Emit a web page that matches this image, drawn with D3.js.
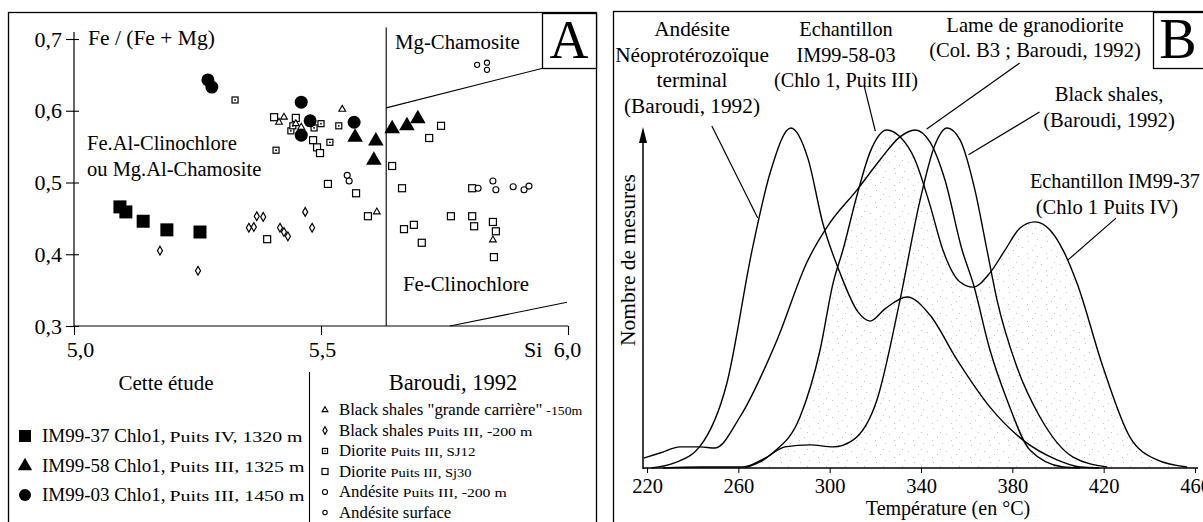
<!DOCTYPE html>
<html><head><meta charset="utf-8">
<script src="https://cdn.jsdelivr.net/npm/d3@7"></script>
<style>
html,body{margin:0;padding:0;background:#fff;}
svg{display:block;}
</style></head><body>
<svg id="c" width="1203" height="522"></svg>
<script>
// ================= DATA =================
// Panel A : Si (x) vs Fe/(Fe+Mg) (y)
const siTicks = [5.0, 5.5, 6.0];
const siTickLabels = ["5,0", "5,5", "6,0"];
const feTicks = [0.3, 0.4, 0.5, 0.6, 0.7];
const feTickLabels = ["0,3", "0,4", "0,5", "0,6", "0,7"];

const im9937 = [[5.093,0.466],[5.105,0.459],[5.140,0.446],[5.188,0.434],[5.255,0.431]];
const im9958 = [[5.569,0.563],[5.611,0.558],[5.607,0.531],[5.644,0.575],[5.674,0.579],[5.696,0.589]];
const im9903 = [[5.271,0.643],[5.279,0.633],[5.460,0.612],[5.478,0.586],[5.460,0.566],[5.567,0.584]];

const bsGrandeCarriere = [[5.425,0.591],[5.415,0.584],[5.449,0.582],[5.460,0.577],[5.543,0.602],[5.613,0.459],[5.848,0.420]];
const bsPuitsIII = [[5.174,0.405],[5.251,0.377],[5.354,0.437],[5.364,0.438],[5.370,0.453],[5.383,0.452],
                    [5.417,0.437],[5.425,0.431],[5.433,0.425],[5.468,0.459],[5.482,0.437]];
const dioriteSJ12 = [[5.326,0.615],[5.409,0.545],[5.439,0.572],[5.443,0.579],[5.486,0.576],[5.500,0.582],[5.518,0.556],[5.536,0.579]];
const dioriteSj30 = [[5.405,0.591],[5.449,0.590],[5.484,0.559],[5.492,0.549],[5.498,0.541],[5.514,0.498],[5.571,0.485],
                     [5.391,0.421],[5.595,0.453],[5.644,0.523],[5.664,0.492],[5.719,0.562],[5.743,0.579],[5.763,0.453],
                     [5.806,0.453],[5.810,0.439],[5.848,0.445],[5.854,0.432],[5.850,0.396],[5.668,0.435],[5.688,0.441],
                     [5.704,0.416],[5.806,0.492]];
const andesitePuitsIII = [[5.818,0.492],[5.848,0.502],[5.854,0.490],[5.889,0.494],[5.911,0.490],[5.921,0.495],[5.553,0.510],[5.557,0.502]];
const andesiteSurface = [[5.816,0.664],[5.836,0.667],[5.836,0.657]];

// field boundaries (Si, Fe/(Fe+Mg))
const boundaryVertical = [[5.632,0.3],[5.632,0.716]];
const boundaryUpper = [[5.632,0.604],[5.953,0.660]];
const boundaryLower = [[5.761,0.3],[5.998,0.333]];

// Panel B : temperature distributions (T in °C, relative count 0-100)
const tempTicks = [220, 260, 300, 340, 380, 420, 460];
const curveAndesite = [[222,0],[232,1.5],[243,6.2],[255,25],[266,64],[274,87],[283,100],[290.5,91],[297,72],[304.5,57.4],
  [312.4,45.9],[317.7,43.2],[324.2,46.8],[333.9,50.3],[343.9,45],[355.8,31.8],[370.2,17.9],[384.7,8.2],[399.6,2.4],[409.6,0.3],[418,0]];
const curveIM9958 = [[263,0],[275,4.4],[287,15],[295.8,34.7],[301.5,54.4],[305.8,64.1],[312,80.3],[317.7,92.9],[325.1,99.4],
  [330.8,97.4],[337.4,90.6],[343.9,77.4],[349.6,64.1],[357.1,54.7],[362.8,53.2],[370.2,57.4],[376.8,64.1],[383.4,70.6],
  [389.9,72.4],[396.5,70],[402.2,64.1],[408.3,54.4],[419.7,29.7],[431.5,9.1],[443.4,2.4],[456.5,0.3]];
const curveLame = [[218.5,2.9],[225.7,4.4],[234.5,6.2],[243.2,6.2],[249.8,5.9],[260.7,15],[276.9,37.6],[290.1,60.6],[300,72],
  [312,81.8],[322,90.6],[330.8,97.4],[337.4,99.4],[343.9,95.9],[350.5,84.7],[358,64.1],[362.8,54.4],[370.2,34.7],[377.7,20],
  [387.7,5.3],[402.2,0.3],[409.6,0]];
const curveBlackShales = [[227,0],[243.2,0.3],[262,0.3],[271.7,2.9],[280.4,6.2],[291.4,6.8],[301.5,6.2],[310.2,8.2],[320.7,20],
  [330.8,49.4],[339.6,78.8],[346.1,95],[351.4,100],[357.1,96.5],[363.6,81.8],[368.9,64.1],[373.3,49.4],[382,29.7],[392.1,15],
  [406.6,3.2],[421.5,0.3]];

// ================= DRAW =================
const FONT = '"Liberation Serif","Times New Roman",serif';
const svg = d3.select("#c").style("font-family", FONT);

// ---------- Panel A ----------
const xA = d3.scaleLinear().domain([5, 6]).range([74, 568]);
const yA = d3.scaleLinear().domain([0.3, 0.7]).range([326, 39]);
const A = svg.append("g");

A.append("rect").attr("x", 8.5).attr("y", 12.5).attr("width", 588).attr("height", 520)
  .attr("fill", "none").attr("stroke", "#000").attr("stroke-width", 1.3);

// axes
A.append("line").attr("x1", xA(5)).attr("x2", xA(5)).attr("y1", yA(0.3)).attr("y2", yA(0.7) - 7)
  .attr("stroke", "#000").attr("stroke-width", 1.2);
A.append("line").attr("x1", xA(5)).attr("x2", xA(6)).attr("y1", yA(0.3)).attr("y2", yA(0.3))
  .attr("stroke", "#000").attr("stroke-width", 1.2);

const axLeft = A.append("g").attr("transform", `translate(${xA(5)},0)`)
  .call(d3.axisLeft(yA).tickValues(feTicks).tickFormat((d, i) => feTickLabels[i]).tickSize(8).tickPadding(4));
axLeft.attr("font-family", FONT);
axLeft.select(".domain").remove();
axLeft.selectAll("text").attr("font-size", 22).attr("fill", "#000");
const axLeftR = A.append("g").attr("transform", `translate(${xA(5)},0)`)
  .call(d3.axisRight(yA).tickValues(feTicks).tickFormat("").tickSize(5));
axLeftR.select(".domain").remove();

const siLabelShift = [6, 1, -1];
const axBot = A.append("g").attr("transform", `translate(0,${yA(0.3)})`)
  .call(d3.axisBottom(xA).tickValues(siTicks).tickFormat((d, i) => siTickLabels[i]).tickSize(9).tickPadding(6));
axBot.attr("font-family", FONT);
axBot.select(".domain").remove();
axBot.selectAll("text").attr("font-size", 22).attr("fill", "#000").attr("dx", (d, i) => siLabelShift[i]);
A.selectAll(".tick line").attr("stroke", "#000").attr("stroke-width", 1.1);

A.append("text").attr("x", 524).attr("y", 357).attr("font-size", 22).text("Si");
A.append("text").attr("x", 88).attr("y", 45).attr("font-size", 21.5).text("Fe / (Fe + Mg)");

// boundaries
const lineA = d3.line().x(d => xA(d[0])).y(d => yA(d[1]));
[boundaryVertical, boundaryUpper, boundaryLower].forEach(b =>
  A.append("path").attr("d", lineA(b)).attr("fill", "none").attr("stroke", "#000").attr("stroke-width", 1.1));

// field labels
A.append("text").attr("x", 395).attr("y", 49).attr("font-size", 20.8).text("Mg-Chamosite");
A.append("text").attr("x", 87).attr("y", 150).attr("font-size", 20.5).text("Fe.Al-Clinochlore");
A.append("text").attr("x", 87).attr("y", 176).attr("font-size", 20.5).text("ou Mg.Al-Chamosite");
A.append("text").attr("x", 403).attr("y", 291).attr("font-size", 20.8).text("Fe-Clinochlore");

// A box
A.append("rect").attr("x", 542.5).attr("y", 13.5).attr("width", 54).attr("height", 55)
  .attr("fill", "#fff").attr("stroke", "#000").attr("stroke-width", 1.3);
A.append("text").attr("x", 569).attr("y", 58).attr("text-anchor", "middle").attr("font-size", 54).text("A");

// marker helpers
function drawMarker(g, type, x, y, scale = 1) {
  const s = scale;
  if (type === "fsq") g.append("rect").attr("x", x - 6.5 * s).attr("y", y - 6.5 * s).attr("width", 13 * s).attr("height", 13 * s).attr("fill", "#000");
  else if (type === "ftri") g.append("path").attr("d", d3.symbol(d3.symbolTriangle, 105 * s * s)()).attr("transform", `translate(${x},${y})`).attr("fill", "#000");
  else if (type === "fcir") g.append("circle").attr("cx", x).attr("cy", y).attr("r", 6.5 * s).attr("fill", "#000");
  else if (type === "otri") g.append("path").attr("d", d3.symbol(d3.symbolTriangle, 20 * s * s)()).attr("transform", `translate(${x},${y})`).attr("fill", "#fff").attr("stroke", "#000").attr("stroke-width", 1.1);
  else if (type === "odia") g.append("path").attr("d", d3.symbol(d3.symbolDiamond, 22 * s * s)()).attr("transform", `translate(${x},${y})`).attr("fill", "#fff").attr("stroke", "#000").attr("stroke-width", 1.2);
  else if (type === "dsq") {
    g.append("rect").attr("x", x - 3 * s).attr("y", y - 3 * s).attr("width", 6 * s).attr("height", 6 * s).attr("fill", "#fff").attr("stroke", "#000").attr("stroke-width", 1.2);
    g.append("circle").attr("cx", x).attr("cy", y).attr("r", 0.9 * s).attr("fill", "#000");
  }
  else if (type === "osq") g.append("rect").attr("x", x - 3.5 * s).attr("y", y - 3.5 * s).attr("width", 7 * s).attr("height", 7 * s).attr("fill", "#fff").attr("stroke", "#000").attr("stroke-width", 1.2);
  else if (type === "ocir") g.append("circle").attr("cx", x).attr("cy", y).attr("r", 3 * s).attr("fill", "#fff").attr("stroke", "#000").attr("stroke-width", 1.1);
  else if (type === "ocir2") g.append("circle").attr("cx", x).attr("cy", y).attr("r", 2.6 * s).attr("fill", "#fff").attr("stroke", "#000").attr("stroke-width", 1.1);
}
const series = [
  [dioriteSj30, "osq"], [dioriteSJ12, "dsq"], [bsPuitsIII, "odia"], [bsGrandeCarriere, "otri"],
  [andesitePuitsIII, "ocir"], [andesiteSurface, "ocir2"],
  [im9937, "fsq"], [im9958, "ftri"], [im9903, "fcir"]
];
const pts = A.append("g");
series.forEach(([data, type]) => data.forEach(d => drawMarker(pts, type, xA(d[0]), yA(d[1]))));

// legend
A.append("text").attr("x", 166).attr("y", 390).attr("text-anchor", "middle").attr("font-size", 21).text("Cette étude");
A.append("text").attr("x", 453).attr("y", 390).attr("text-anchor", "middle").attr("font-size", 22.5).text("Baroudi, 1992");
A.append("line").attr("x1", 309.5).attr("x2", 309.5).attr("y1", 372).attr("y2", 522).attr("stroke", "#000").attr("stroke-width", 1.1);

// [marker, main text, small text, small text width, row centre]
const legL = [
  ["fsq", "IM99-37 Chlo1,", "Puits IV, 1320 m", 133, 436],
  ["ftri", "IM99-58 Chlo1,", "Puits III, 1325 m", 135, 466],
  ["fcir", "IM99-03 Chlo1,", "Puits III, 1450 m", 135, 495]
];
legL.forEach(([t, a, b, w, y]) => {
  drawMarker(A, t, 25, y, 0.92);
  const tx = A.append("text").attr("x", 42).attr("y", y + 6).attr("font-size", 19).text(a);
  const end = 42 + tx.node().getComputedTextLength();
  A.append("text").attr("x", end + 4).attr("y", y + 6).attr("font-size", 15)
    .attr("textLength", w).attr("lengthAdjust", "spacingAndGlyphs").text(b);
});
const legR = [
  ["otri", "Black shales \"grande carrière\"", "-150m", 36, 410],
  ["odia", "Black shales", "Puits III, -200 m", 105, 430.5],
  ["dsq", "Diorite", "Puits III, SJ12", 85, 451],
  ["osq", "Diorite", "Puits III, Sj30", 81, 471.5],
  ["ocir", "Andésite", "Puits III, -200 m", 104, 492],
  ["ocir2", "Andésite surface", "", 0, 512.5]
];
legR.forEach(([t, a, b, w, y]) => {
  drawMarker(A, t, 325, y, 0.85);
  const tx = A.append("text").attr("x", 339).attr("y", y + 5).attr("font-size", 16.8).text(a);
  const end = 339 + tx.node().getComputedTextLength();
  if (b) A.append("text").attr("x", end + 4).attr("y", y + 5).attr("font-size", 13)
    .attr("textLength", w).attr("lengthAdjust", "spacingAndGlyphs").text(b);
});

// ---------- Panel B ----------
const xB = d3.scaleLinear().domain([220, 460]).range([647, 1195]);
const yB = d3.scaleLinear().domain([0, 100]).range([468, 128]);
const B = svg.append("g");

const defs = svg.append("defs");
const pat = defs.append("pattern").attr("id", "stip").attr("patternUnits", "userSpaceOnUse").attr("width", 19).attr("height", 17);
[[2, 3], [11, 1], [15, 9], [6, 12], [1, 15], [9, 7]].forEach(p => pat.append("rect").attr("x", p[0]).attr("y", p[1]).attr("width", 1).attr("height", 1).attr("fill", "#c4c4c4"));

B.append("rect").attr("x", 613.5).attr("y", 11.5).attr("width", 600).attr("height", 520)
  .attr("fill", "none").attr("stroke", "#000").attr("stroke-width", 1.3);

// stipple under this-study curve
const areaB = d3.area().x(d => xB(d[0])).y0(yB(0)).y1(d => yB(d[1])).curve(d3.curveMonotoneX);
B.append("path").attr("d", areaB(curveIM9958)).attr("fill", "url(#stip)");

const lineB = d3.line().x(d => xB(d[0])).y(d => yB(d[1])).curve(d3.curveMonotoneX);
[curveAndesite, curveIM9958, curveLame, curveBlackShales].forEach(c =>
  B.append("path").attr("d", lineB(c)).attr("fill", "none").attr("stroke", "#000").attr("stroke-width", 1.4));

// axes
const axB = B.append("g").attr("transform", `translate(0,${yB(0)})`)
  .call(d3.axisBottom(xB).tickValues(tempTicks).tickSize(5).tickPadding(5).tickFormat(d3.format("d")));
axB.attr("font-family", FONT);
axB.select(".domain").remove();
axB.selectAll("text").attr("font-size", 20.5).attr("fill", "#000");
axB.selectAll(".tick line").attr("stroke", "#000");
B.append("line").attr("x1", 643).attr("x2", 1198).attr("y1", yB(0)).attr("y2", yB(0)).attr("stroke", "#000").attr("stroke-width", 1.5);
B.append("line").attr("x1", 643).attr("x2", 643).attr("y1", yB(0) + 1).attr("y2", 140).attr("stroke", "#000").attr("stroke-width", 1.5);
B.append("path").attr("d", "M643,127 L639,143 L647,143 Z").attr("fill", "#000");

B.append("text").attr("x", 948).attr("y", 515).attr("text-anchor", "middle").attr("font-size", 20).text("Température (en °C)");
B.append("text").attr("transform", "translate(635,260) rotate(-90)").attr("text-anchor", "middle").attr("font-size", 21.5).text("Nombre de mesures");

// labels
function block(lines, cx, y0, dy, fs, anchor = "middle") {
  lines.forEach((t, i) => B.append("text").attr("x", cx).attr("y", y0 + i * dy).attr("text-anchor", anchor).attr("font-size", fs).text(t));
}
block(["Andésite", "Néoprotérozoïque", "terminal", "(Baroudi, 1992)"], 692, 36, 25.5, 21.3);
block(["Echantillon", "IM99-58-03", "(Chlo 1, Puits III)"], 846, 36, 25.5, 20.3);
block(["Lame de granodiorite", "(Col. B3 ; Baroudi, 1992)"], 1035, 32, 24.5, 20.6);
block(["Black shales,", "(Baroudi, 1992)"], 1109, 101, 25.5, 20.6);
B.append("text").attr("x", 1030).attr("y", 188).attr("font-size", 20.2).text("Echantillon IM99-37");
B.append("text").attr("x", 1107).attr("y", 214).attr("text-anchor", "middle").attr("font-size", 20.6).text("(Chlo 1 Puits IV)");

// leader lines in data coordinates (T, count)
const leaders = [
  [[248.4, 100.6], [268.5, 73.5]],
  [[315.1, 112.4], [320, 99.1]],
  [[383.2, 119.1], [342.5, 99.7]],
  [[391.9, 104.7], [360.8, 92.1]],
  [[425.4, 73.5], [404.4, 61.2]]
];
const lineL = d3.line().x(d => xB(d[0])).y(d => yB(d[1]));
leaders.forEach(l => B.append("path").attr("d", lineL(l)).attr("fill", "none").attr("stroke", "#000").attr("stroke-width", 1.2));

// B box
B.append("rect").attr("x", 1153.5).attr("y", 12.5).attr("width", 60).attr("height", 56)
  .attr("fill", "#fff").attr("stroke", "#000").attr("stroke-width", 1.3);
B.append("text").attr("x", 1178).attr("y", 58).attr("text-anchor", "middle").attr("font-size", 56).text("B");
</script>
</body></html>
